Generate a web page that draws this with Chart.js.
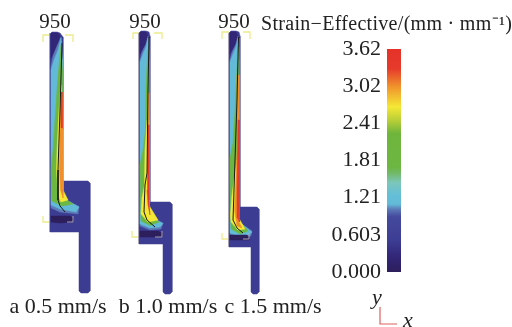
<!DOCTYPE html>
<html lang="en">
<head>
<meta charset="UTF-8">
<title>Strain-Effective</title>
<script src="https://cdn.jsdelivr.net/npm/chart.js"></script>
<style>
  html, body { margin: 0; padding: 0; background: #fff; }
  body { width: 512px; height: 327px; overflow: hidden; position: relative; }
  canvas { position: absolute; }
  #sections { left: 0; top: 0; filter: blur(0.5px); }
  #scaleBar { left: 261px; top: 0; }
  .axisName { position: absolute; font: italic 22px "Liberation Serif", serif; color: #222; line-height: 22px; }
  #barTitle { position: absolute; left: 261px; top: 12px; font: 20px "Liberation Serif", serif; color: #222; line-height: 22px; white-space: nowrap; letter-spacing: 0.3px; }
</style>
</head>
<body>
<canvas id="sections" width="512" height="327"></canvas>
<canvas id="scaleBar" width="251" height="327"></canvas>
<span id="barTitle">Strain&minus;Effective/(mm &middot; mm&#8315;&sup1;)</span>
<span class="axisName" style="left:372px;top:286px">y</span>
<span class="axisName" style="left:403px;top:309px">x</span>
<script>
// colour scale
var strainTicks = [0, 0.603, 1.21, 1.81, 2.41, 3.02, 3.62];
var strainLabels = ['0.000', '0.603', '1.21', '1.81', '2.41', '3.02', '3.62'];
var stopValues = [0, 0.25, 0.5, 0.9, 1.02, 1.1, 1.25, 1.45, 1.6, 1.7, 2.25, 2.45, 2.68, 3.02, 3.3, 3.62];
var stopColors = ['#2d1e5c', '#322677', '#3c3c93', '#454a9e', '#5c7bb8', '#62bad8', '#64bed8', '#7cc7bb', '#72b96a', '#6cb742', '#6fb53c', '#b5cd38', '#f5e835', '#f0902c', '#e63a2b', '#e5322a'];

var speedLabels = ['a 0.5 mm/s', 'b 1.0 mm/s', 'c 1.5 mm/s'];
var speedTicks = [58, 168, 273];
var tempLabels = ['950', '950', '950'];
var tempTicks = [55, 145, 234];

// section outlines
var outlineA = [[50,34],[52,32],[57,32],[60,33],[63,37],[63,181],[88,181],[90,183],[90,291],[88,293],[81,293],[79,291],[79,232],[50,232]];
var outlineB = [[139,33],[141,31],[146,31],[149,32],[150,36],[150,202],[170,202],[172,204],[172,292],[170,294],[165,294],[163,292],[163,244],[139,244]];
var outlineC = [[229,33],[231,31],[236,31],[239,32],[240,36],[240,207],[257,207],[259,209],[259,292],[257,294],[253,294],[251,292],[251,247],[229,247]];

// strain contours, painted in order: [strain, polygon]
var bandsA = [
  [0.25, [[51,33],[58,33],[60,36],[58,45],[54,52],[51,58]]],
  [1.02, [[61,37],[62.5,60],[62.5,198],[79,206.5],[78,214],[60,212],[51,208],[51,66],[53,56],[57,46]]],
  [1.2, [[61,38],[62.3,60],[62.3,198],[79,207],[76,212],[60,209],[51,205],[51,70],[54,60],[58,50]]],
  [1.9, [[61,45],[62.3,70],[62.3,197],[73,204],[62,206],[52,201],[51,170],[53,150],[55,120],[57,90],[59,65]]],
  [2.68, [[61,85],[62.5,100],[63,130],[63,190],[68,200],[61,202],[58,196],[56.5,170],[57,150],[59,110]]],
  [3.02, [[60.5,100],[62.5,100],[63,130],[63,198],[60.5,190],[59.5,170],[60,130]]],
  [3.4, [[60.5,92],[62,92],[62.3,128],[61,128]]],
  [0, [[51,216],[70,216],[73,218],[73,222],[60,223],[51,222]]]
];
var bandsB = [
  [0.25, [[140,32],[146,32],[148,36],[146,44],[142,50],[140,54]]],
  [1.02, [[148,36],[149,60],[149,216],[163,223],[161,229],[150,230],[140,226],[140,60],[142,52],[146,44]]],
  [1.2, [[148,38],[148.8,60],[148.8,216],[163,223.5],[160,227],[150,228],[140,224],[140,62],[143,54],[146,47]]],
  [1.9, [[148,50],[148.8,60],[148.8,215],[159,222],[150,225.5],[141,221],[140,165],[143,150],[145.5,130],[146,90],[147,65]]],
  [2.68, [[147,120],[148.8,120],[148.8,205],[158,220],[148,222],[141,214],[142,198],[144.5,185],[145,150]]],
  [3.02, [[147.5,93],[149,93],[149,135],[147.5,135]]],
  [3.4, [[147.5,125],[149,125],[149,200],[150,215],[148,205],[147,190],[147.5,150]]],
  [0, [[140,231],[158,231],[162,233],[162,237],[140,237]]]
];
var bandsC = [
  [0.25, [[230,32],[236,32],[238,36],[236,44],[232,50],[230,54]]],
  [1.02, [[238,36],[239,60],[239,222],[252,231],[251,236],[240,239],[230,235],[230,60],[232,52],[236,44]]],
  [1.2, [[238,38],[238.8,60],[238.8,222],[252,232],[249,235],[240,237],[230,233],[230,62],[233,54],[236,47]]],
  [1.9, [[238,47],[238.8,60],[238.8,221],[248,231],[240,234],[231,229],[230,170],[230,158],[233,143],[235,110],[237,70]]],
  [2.68, [[237,160],[238.8,160],[238.8,218],[245,229],[238,230],[231,222],[230.5,215],[232,195],[234,180]]],
  [3.02, [[237,75],[239,75],[239,222],[242,228],[237,226],[234.5,210],[235.5,190],[237,150]]],
  [3.4, [[238,120],[239.3,120],[239.5,222],[237.5,218],[237,190]]],
  [0, [[230,235],[247,235],[249,237],[249,240],[230,240]]]
];

// black flow lines
var flowA = [[62,43],[60,110],[58,170],[58,200],[60,206],[65,212]];
var flowB = [[149,37],[148,90],[147,173],[145,185],[144,212],[147,220],[155,227]];
var flowC = [[238.5,37],[237,100],[234,190],[233,220],[237,228],[243,233]];

// die corner markers
var yellowMarks = [
  [[43,42],[43,35],[49,35]], [[65,35],[73,35],[73,42]], [[43,216],[43,222],[49,222]],
  [[133,39],[133,33],[139,33]], [[154,33],[162,33],[162,39]], [[132,231],[132,237],[139,237]],
  [[222,39],[222,32],[229,32]], [[243,32],[250,32],[250,39]], [[222,233],[222,239],[229,239]]
];
var greyMarks = [
  [[67,222],[73,222],[73,216]], [[155,237],[162,237],[162,231]], [[243,239],[249,239],[249,233]],
  [[49.5,33],[49.5,232]], [[138.5,33],[138.5,244]], [[228.5,33],[228.5,247]]
];
var axisMark = [[380,307],[380,324],[397,324]];

function strainColor(v) {
  var i = stopValues.indexOf(v);
  if (i >= 0) return stopColors[i];
  for (i = 0; i < stopValues.length - 1; i++) {
    if (v < stopValues[i + 1]) return stopColors[i];
  }
  return stopColors[stopColors.length - 1];
}

function toPoints(list) {
  return list.map(function (p) { return { x: p[0], y: p[1] }; });
}

var datasets = [];
function addArea(list, color) {
  var pts = toPoints(list);
  pts.push(pts[0]);
  datasets.push({ data: pts, showLine: true, fill: 'shape', backgroundColor: color, borderColor: color, borderWidth: 0.5, pointRadius: 0, clip: false, order: -datasets.length });
}
function addLine(list, color, width) {
  datasets.push({ data: toPoints(list), showLine: true, fill: false, borderColor: color, borderWidth: width, pointRadius: 0, clip: false, order: -datasets.length });
}

[[outlineA, bandsA, flowA], [outlineB, bandsB, flowB], [outlineC, bandsC, flowC]].forEach(function (p) {
  addArea(p[0], strainColor(0.5));
  p[1].forEach(function (b) { addArea(b[1], strainColor(b[0])); });
  addLine(p[2], '#1a1a1a', 1);
});
yellowMarks.forEach(function (m) { addLine(m, '#ecec8c', 1.3); });
greyMarks.forEach(function (m) { addLine(m, '#a5a0b4', 1); });
addLine(axisMark, '#e0605c', 1.2);

new Chart(document.getElementById('sections'), {
  type: 'scatter',
  data: { datasets: datasets },
  options: {
    responsive: false,
    animation: false,
    events: [],
    layout: { padding: 0 },
    plugins: { legend: { display: false }, tooltip: { enabled: false } },
    scales: {
      x: {
        type: 'linear', position: 'bottom', min: 0, max: 512,
        grid: { display: false, drawTicks: false }, border: { display: false },
        afterBuildTicks: function (s) { s.ticks = speedTicks.map(function (v) { return { value: v }; }); },
        afterFit: function (s) { s.height = 31; },
        ticks: { font: { family: '"Liberation Serif", serif', size: 22 }, color: '#222', padding: -2, maxRotation: 0, autoSkip: false,
          callback: function (v, i) { return speedLabels[i]; } }
      },
      xTop: {
        type: 'linear', axis: 'x', position: 'top', min: 0, max: 512,
        grid: { display: false, drawTicks: false }, border: { display: false },
        afterBuildTicks: function (s) { s.ticks = tempTicks.map(function (v) { return { value: v }; }); },
        afterFit: function (s) { s.height = 31; },
        ticks: { font: { family: '"Liberation Serif", serif', size: 21 }, color: '#222', padding: -4, maxRotation: 0, autoSkip: false,
          callback: function (v, i) { return tempLabels[i]; } }
      },
      y: { type: 'linear', display: false, reverse: true, min: 31, max: 296 }
    }
  }
});

new Chart(document.getElementById('scaleBar'), {
  type: 'bar',
  data: {
    labels: ['Strain-Effective'],
    datasets: [{
      data: [[strainTicks[0], strainTicks[strainTicks.length - 1]]],
      barPercentage: 1,
      categoryPercentage: 1,
      backgroundColor: function (ctx) {
        var a = ctx.chart.chartArea;
        if (!a) return stopColors[0];
        var g = ctx.chart.ctx.createLinearGradient(0, a.bottom, 0, a.top);
        stopValues.forEach(function (v, i) { g.addColorStop(v / 3.62, stopColors[i]); });
        return g;
      }
    }]
  },
  options: {
    responsive: false,
    animation: false,
    events: [],
    layout: { padding: { left: 0, right: 111, top: 49, bottom: 55 } },
    plugins: { legend: { display: false }, tooltip: { enabled: false } },
    scales: {
      x: { display: false },
      y: {
        min: 0, max: 3.62,
        grid: { display: false, drawTicks: false }, border: { display: false },
        afterBuildTicks: function (s) { s.ticks = strainTicks.map(function (v) { return { value: v }; }); },
        afterFit: function (s) { s.width = 126; },
        ticks: { font: { family: '"Liberation Serif", serif', size: 22 }, color: '#222', padding: 6, autoSkip: false,
          callback: function (v, i) { return strainLabels[i]; } }
      }
    }
  }
});
</script>
</body>
</html>
